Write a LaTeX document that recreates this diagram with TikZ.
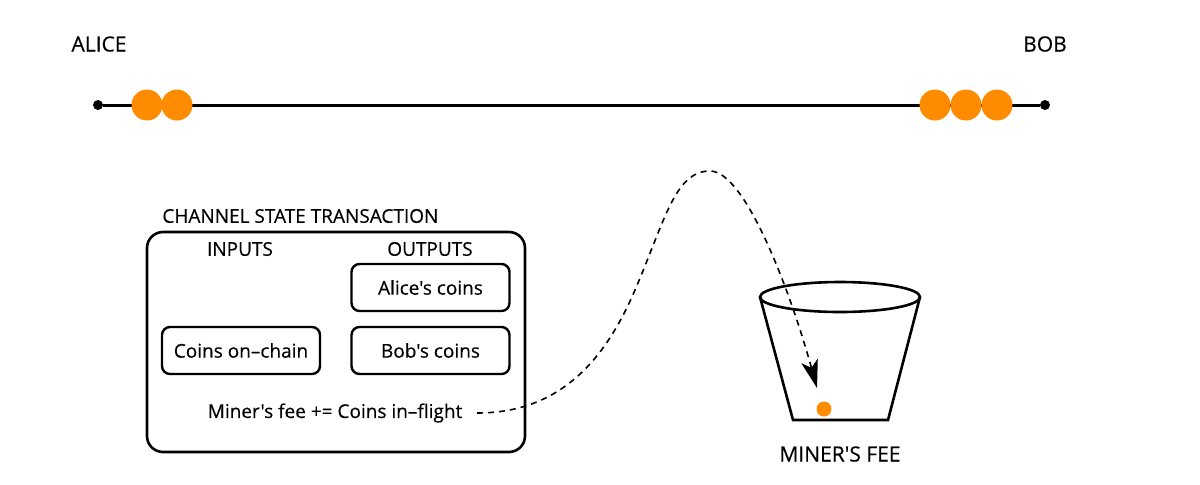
\documentclass[tikz,border=0pt]{standalone}
\usepackage{fontspec}
\setmainfont{Open Sans}[Ligatures=TeXOff, FakeBold=0.4]
\usetikzlibrary{arrows.meta}
\definecolor{coin}{RGB}{255,140,0}
\begin{document}
\begin{tikzpicture}[x=0.5pt,y=-0.5pt,
  lbl/.style={font=\fontsize{10.5}{12}\selectfont, inner sep=0pt},
  txt/.style={font=\fontsize{9.5}{11}\selectfont, inner sep=0pt},
  coinbox/.style={draw, line width=1.2pt, rounded corners=4pt, minimum width=79pt, minimum height=23.5pt, txt},
  dot/.style={circle, fill=black, inner sep=0pt, minimum size=5pt},
  coindot/.style={circle, fill=coin, inner sep=0pt, minimum size=15.5pt}]
\useasboundingbox (0,0) rectangle (1200,484);
% channel line
\node[lbl] (alice) at (99,44) {ALICE};
\node[lbl] (bob) at (1045,44) {BOB};
\node[dot] (la) at (98,105) {};
\node[dot] (lb) at (1045,105) {};
\draw[line width=1.5pt] (la) -- (lb);
\node[coindot] (c1) at (147,105) {};
\node[coindot] (c2) at (177,105) {};
\node[coindot] (c3) at (935,105) {};
\node[coindot] (c4) at (966,105) {};
\node[coindot] (c5) at (997,105) {};
% transaction box
\draw[line width=1.3pt, rounded corners=8pt] (147,232) rectangle (525,452);
\node[txt, anchor=west] (title) at (162,216) {CHANNEL STATE TRANSACTION};
\node[txt] (inputs) at (240,249) {INPUTS};
\node[txt] (outputs) at (430,249) {OUTPUTS};
\node[coinbox] (ac) at (430.5,287.5) {Alice's coins};
\node[coinbox] (bc) at (430.5,350.5) {Bob's coins};
\node[coinbox] (oc) at (241,350.5) {Coins on\textendash chain};
\node[txt] (fee) at (335,413) {Miner's fee += Coins in\textendash flight};
% bucket
\draw[line width=1.3pt] (840,297) ellipse (80 and 15);
\draw[line width=1.3pt] (760,297) -- (793,420) -- (888,420) -- (920,297);
\node[circle, fill=coin, inner sep=0pt, minimum size=7.5pt] (feecoin) at (824,409) {};
\node[lbl] (bucketlbl) at (840,454) {MINER'S FEE};
\coordinate (start) at (477,413);
\coordinate (tip) at (817,388);
\draw[line width=0.8pt, dash pattern=on 3pt off 2.5pt, -{Stealth[length=14pt,width=8.5pt,inset=3.5pt]}]
  (start) .. controls (560,413) and (605,360) .. (635,290)
  .. controls (665,220) and (675,171) .. (710,171)
  .. controls (745,171) and (790,290) .. (tip);
\end{tikzpicture}
\end{document}
